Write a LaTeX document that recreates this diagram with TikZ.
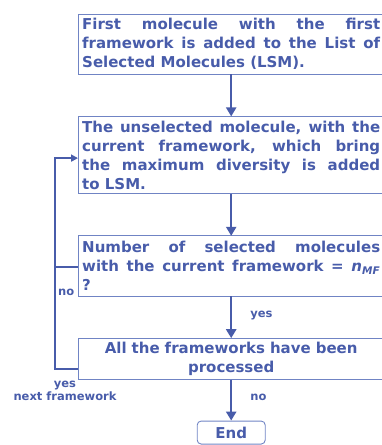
\documentclass[tikz,border=0pt]{standalone}
\usepackage{fontspec}
\setmainfont{DejaVu Sans}
\usetikzlibrary{arrows.meta}
\usetikzlibrary{positioning}

\definecolor{flowblue}{RGB}{72,92,170}
\definecolor{boxline}{RGB}{112,132,196}

\begin{document}
\begin{tikzpicture}[x=1pt, y=1pt,
                font=\fontsize{15}{19}\selectfont\bfseries, text=flowblue,
                block/.style={rectangle, text width=298pt, inner xsep=4pt, inner ysep=2pt, align=justify},
                frame/.style={draw=boxline, line width=0.9pt},
                endbox/.style={rectangle, rounded corners=4pt, draw=boxline, line width=0.9pt,
                               minimum width=68pt, minimum height=23pt},
                lbl/.style={font=\fontsize{11.5}{13}\selectfont\bfseries, inner sep=0pt},
                arrow/.style={draw=flowblue, line width=2.4pt, -{Triangle[length=9pt,width=10pt]}},
                arrow0/.style={draw=flowblue, line width=2.4pt},
                back/.style={draw=flowblue, line width=2.4pt, -{Triangle[length=7pt,width=7pt]}},
            ]
            \useasboundingbox (0,0) rectangle (382,-445);
            \node[block, minimum height=60pt, anchor=north west](first) at (78,-14)
                {First molecule with the first\linebreak framework is added to the List of\linebreak Selected Molecules (LSM).};
            \node[block, minimum height=77pt, below=42pt of first](select)
                {The unselected molecule, with the\linebreak current framework, which bring\linebreak the maximum diversity is added\linebreak to LSM.};
            \node[block, minimum height=60pt, below=42pt of select](count)
                {Number of selected molecules\linebreak with the current framework = \textit{n}\textsubscript{\textit{MF}}\linebreak ?};
            \node[block, minimum height=41pt, align=center, below=42pt of count](done)
                {All the frameworks have been\\processed};
            \node[endbox, anchor=north](end) at ([yshift=-41pt]done.south) {End};
            % frames run past the right edge of the page
            \foreach \b in {first,select,count,done}
                \draw[frame] (\b.north west) rectangle ([xshift=10pt]\b.south east);
            \coordinate (entry) at ([yshift=-3pt]select.west);
            \coordinate (rail) at ([xshift=-23pt]entry);
            \coordinate (nobranch) at ([yshift=-1pt]count.west);
            \coordinate (nextfw) at ([yshift=-10pt]done.west);
            \path[arrow] (first) -- (select);
            \path[arrow] (select) -- (count);
            \path[arrow] (count) -- node[lbl, right=18pt, yshift=2pt]{yes} (done);
            \path[arrow] (done) -- node[lbl, right=18pt, yshift=3pt]{no} (end);
            \path[back] (nextfw) -| (rail) -- (entry);
            \path[arrow0] (nobranch) -- (nobranch -| rail);
            \node[lbl, anchor=base west] at ([xshift=3pt, yshift=-28pt]nobranch -| rail) {no};
            \node[lbl, align=center, anchor=north] at ([xshift=10pt, yshift=-12pt]nextfw -| rail) {yes\\next framework};
            \end{tikzpicture}
\end{document}
